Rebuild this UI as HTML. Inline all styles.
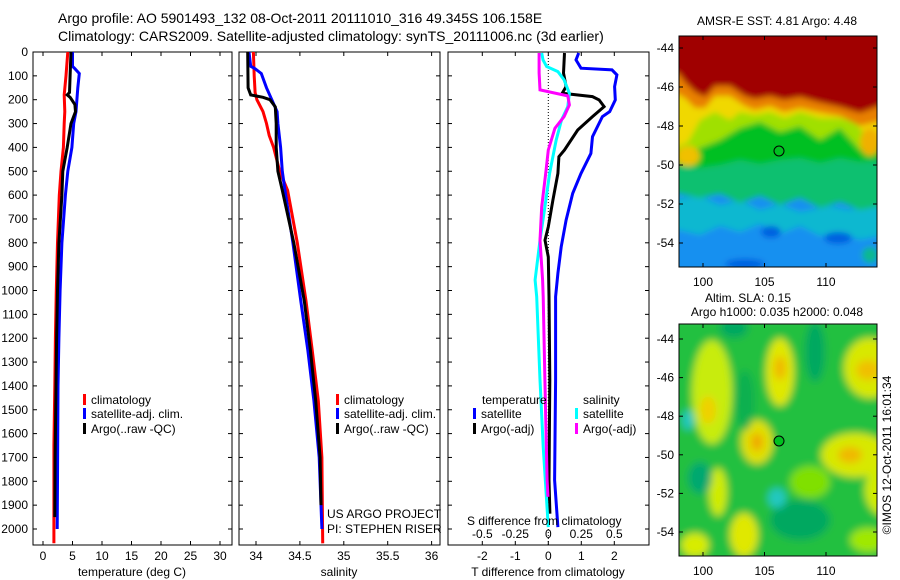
<!DOCTYPE html>
<html><head><meta charset="utf-8"><style>
html,body{margin:0;padding:0;background:#fff;}
svg{display:block;font-family:"Liberation Sans",sans-serif;}
text{font-size:12px;fill:#000;}
</style></head><body>
<svg id="fig" width="900" height="580" viewBox="0 0 900 580" xmlns="http://www.w3.org/2000/svg">
<defs>
<filter id="bl" x="-10%" y="-10%" width="120%" height="120%"><feGaussianBlur stdDeviation="3"/></filter>
<filter id="bl2" x="-30%" y="-30%" width="160%" height="160%"><feGaussianBlur stdDeviation="4"/></filter>
<clipPath id="c1"><rect x="679" y="36" width="198" height="231"/></clipPath>
<clipPath id="c2"><rect x="679" y="324" width="198" height="232"/></clipPath>
</defs>
<text x="58" y="23" style="font-size:14px">Argo profile: AO 5901493_132 08-Oct-2011 20111010_316 49.345S 106.158E</text>
<text x="58" y="41" style="font-size:14px">Climatology: CARS2009. Satellite-adjusted climatology: synTS_20111006.nc (3d earlier)</text>

<g id="panels"></g>

<!-- SST map -->
<g>
<text x="777" y="25" text-anchor="middle">AMSR-E SST: 4.81  Argo: 4.48</text>
<g clip-path="url(#c1)">
<g filter="url(#bl)">
<rect x="670" y="30" width="215" height="245" fill="#1890f0"/>
<polygon fill="#10b8d0" points="670,200 700,196 720,205 740,200 760,210 780,204 800,212 830,206 850,210 885,200 885,235 860,240 840,232 820,236 800,226 780,234 760,224 740,232 720,226 700,235 670,228"/>
<polygon fill="#10c070" points="670,30 885,30 885,205 860,210 840,202 820,208 800,198 780,205 760,196 740,203 720,194 700,198 670,192"/>
<polygon fill="#00c020" points="670,30 885,30 885,160 860,162 840,158 820,163 800,158 780,160 760,164 740,160 720,165 700,168 670,166"/>
<polygon fill="#a0e000" points="670,30 885,30 885,145 860,150 840,128 820,140 800,126 780,132 760,122 740,128 720,140 700,148 670,150"/>
<polygon fill="#f0d800" points="670,30 885,30 885,140 870,140 855,122 840,118 820,118 800,112 785,118 770,112 755,115 740,112 730,120 715,112 700,120 688,142 670,150"/>
<polygon fill="#e88000" points="670,30 885,30 885,120 860,126 840,116 818,112 800,108 784,112 770,106 755,110 745,106 730,96 715,96 705,108 695,108 685,98 670,90"/>
<polygon fill="#a00000" points="670,30 885,30 885,104 860,113 840,107 818,102 800,97 784,100 770,96 755,99 745,96 730,86 715,86 705,97 695,92 685,82 679,74 670,70"/>
<ellipse cx="870" cy="142" rx="10" ry="14" fill="#f0b000"/>
<ellipse cx="688" cy="156" rx="12" ry="10" fill="#f0c000"/>
<ellipse cx="771" cy="232" rx="10" ry="6" fill="#0060e0"/>
<ellipse cx="838" cy="238" rx="14" ry="6" fill="#0060e0"/>
<ellipse cx="745" cy="264" rx="20" ry="5" fill="#0060e0"/>
<ellipse cx="870" cy="255" rx="8" ry="8" fill="#10b890"/>
</g>
</g>
<rect x="679" y="36" width="198" height="231" fill="none" stroke="#000" stroke-width="1"/>
<circle cx="779" cy="151" r="5" fill="#00c020" stroke="#000" stroke-width="1"/>
<g id="m1ticks"></g>
</g>

<!-- SLA map -->
<g>
<text x="748" y="302" text-anchor="middle">Altim. SLA: 0.15</text>
<text x="777" y="316" text-anchor="middle">Argo h1000: 0.035 h2000: 0.048</text>
<g clip-path="url(#c2)">
<g filter="url(#bl2)">
<rect x="670" y="318" width="215" height="245" fill="#20c040"/>
<ellipse cx="712" cy="392" rx="20" ry="52" fill="#c8ec10"/>
<ellipse cx="708" cy="410" rx="8" ry="14" fill="#f0d000"/>
<ellipse cx="780" cy="372" rx="14" ry="34" fill="#e0e800"/>
<ellipse cx="780" cy="368" rx="6" ry="12" fill="#f0b800"/>
<ellipse cx="870" cy="368" rx="26" ry="30" fill="#d8e800"/>
<ellipse cx="868" cy="370" rx="12" ry="10" fill="#f0c000"/>
<ellipse cx="757" cy="442" rx="16" ry="22" fill="#e0e000"/>
<ellipse cx="757" cy="442" rx="6" ry="9" fill="#f0a800"/>
<ellipse cx="855" cy="455" rx="34" ry="22" fill="#d8e800"/>
<ellipse cx="850" cy="455" rx="12" ry="8" fill="#f0b800"/>
<ellipse cx="718" cy="492" rx="9" ry="24" fill="#d0ec00"/>
<ellipse cx="744" cy="535" rx="14" ry="22" fill="#e0e800"/>
<ellipse cx="695" cy="545" rx="14" ry="12" fill="#d8ec00"/>
<ellipse cx="810" cy="482" rx="20" ry="16" fill="#80e000"/>
<ellipse cx="885" cy="490" rx="20" ry="26" fill="#d0ec00"/>
<ellipse cx="868" cy="540" rx="18" ry="12" fill="#a0e800"/>
<ellipse cx="815" cy="352" rx="10" ry="30" fill="#00a860"/>
<ellipse cx="800" cy="520" rx="30" ry="20" fill="#00a860"/>
<ellipse cx="777" cy="498" rx="9" ry="10" fill="#20c8c0"/>
<ellipse cx="688" cy="420" rx="6" ry="10" fill="#20c8c0"/>
<ellipse cx="700" cy="478" rx="12" ry="16" fill="#00a870"/>
<ellipse cx="734" cy="328" rx="14" ry="10" fill="#00a860"/>
<ellipse cx="745" cy="400" rx="10" ry="30" fill="#10b050"/>
</g>
</g>
<rect x="679" y="324" width="198" height="232" fill="none" stroke="#000" stroke-width="1"/>
<circle cx="779" cy="441" r="5" fill="#00c020" stroke="#000" stroke-width="1"/>
<g id="m2ticks"></g>
</g>
<text transform="translate(891,455) rotate(-90)" text-anchor="middle">©IMOS 12-Oct-2011 16:01:34</text>
</svg>
<script>
// ---- data ----
const depthTicks = [0,100,200,300,400,500,600,700,800,900,1000,1100,1200,1300,1400,1500,1600,1700,1800,1900,2000];
const tempTicks = [0,5,10,15,20,25,30];
const salTicks = [34,34.5,35,35.5,36];
const salTickLabels = ["34","34.5","35","35.5","36"];
const tdiffTicks = [-2,-1,0,1,2];
const sdiffTicks = [-0.5,-0.25,0,0.25,0.5];
const sdiffTickLabels = ["-0.5","-0.25","0","0.25","0.5"];

const tClimDepth = [0,100,180,250,300,400,500,600,800,1000,1200,1400,1650,2060];
const tClim = [4.2,3.9,3.6,3.7,3.6,3.45,3.05,2.76,2.45,2.25,2.1,2.0,1.85,1.85];
const tSatDepth = [0,60,70,90,150,250,300,400,500,600,800,1000,1200,1400,1800,2000];
const tSat = [5.0,5.0,5.4,6.15,5.9,5.6,5.2,4.9,4.2,3.8,3.2,2.9,2.7,2.55,2.45,2.4];
const tArgoDepth = [0,100,170,180,190,220,250,300,400,500,600,800,1000,1200,1400,1700,1950];
const tArgo = [4.75,4.6,4.5,4.1,4.6,5.4,5.5,4.75,4.1,3.35,3.2,2.7,2.45,2.3,2.2,2.05,2.0];

const sClimDepth = [0,100,170,200,250,300,350,400,500,580,800,1044,1250,1462,1700,2060];
const sClim = [33.97,33.98,33.99,34.01,34.08,34.12,34.15,34.2,34.27,34.36,34.47,34.57,34.64,34.71,34.75,34.76];
const sSatDepth = [0,60,70,90,150,200,250,300,400,500,580,800,1044,1250,1462,1700,2000];
const sSat = [33.92,33.94,33.99,34.06,34.12,34.18,34.24,34.25,34.28,34.3,34.33,34.42,34.51,34.59,34.66,34.72,34.75];
const sArgoDepth = [0,150,180,190,200,230,300,400,500,580,800,1044,1250,1462,1700,1900];
const sArgo = [33.905,33.91,33.94,34.08,34.16,34.22,34.23,34.23,34.25,34.30,34.43,34.55,34.62,34.68,34.73,34.74];

const dTSatDepth = [4,33,68,75,96,145,201,250,271,355,425,509,593,705,817,928,1026,1375,1795,1992];
const dTSat = [0.92,0.84,0.99,1.93,2.08,2.01,2.03,1.86,1.64,1.34,1.29,0.99,0.74,0.54,0.39,0.29,0.22,0.22,0.19,0.29];
const dTArgoDepth = [4,88,145,173,187,201,229,271,327,411,439,509,621,733,789,859,1026,1375,1795,1936];
const dTArgo = [0.49,0.46,0.54,0.42,1.34,1.54,1.69,1.34,0.89,0.49,0.32,0.29,0.14,0,-0.1,0,0.02,0.045,0.02,0.05];
const dSSatDepth = [4,33,61,82,117,173,229,285,369,509,649,789,956,1026,1375,1655,1992];
const dSSat = [-0.05,-0.04,-0.013,0.073,0.12,0.16,0.148,0.1,0.06,0.01,-0.026,-0.063,-0.1,-0.088,-0.063,-0.039,0];
const dSArgoDepth = [4,88,159,184,222,271,320,411,509,649,789,956,1026,1375,1795,1865];
const dSArgo = [-0.07,-0.07,-0.063,0.148,0.16,0.12,0.05,0,-0.02,-0.05,-0.063,-0.043,-0.039,-0.026,-0.009,-0.002];

const mapLonTicks = [100,105,110];
const mapLatTicks = [-44,-46,-48,-50,-52,-54];

// ---- axes ----
const NS = "http://www.w3.org/2000/svg";
const TOP = 52, BOT = 545;
const yD = d => 52 + d * 0.2385;
const xT = v => 43 + v * 5.9;
const xS = v => 256 + (v - 34) * 87.8;
const xDT = v => 548.3 + v * 33;
const xDS = v => 548.3 + v * 132;
const panelsG = document.getElementById('panels');

function mk(tag, attrs, parent) {
  const e = document.createElementNS(NS, tag);
  for (const k in attrs) e.setAttribute(k, attrs[k]);
  (parent || panelsG).appendChild(e);
  return e;
}
function txt(x, y, s, anchor, parent) {
  const t = mk('text', {x: x, y: y, 'text-anchor': anchor || 'start'}, parent);
  t.textContent = s;
  return t;
}
function frame(x0, x1, name) {
  const r = mk('rect', {x: x0, y: TOP, width: x1 - x0, height: BOT - TOP, fill: 'none', stroke: '#000', 'stroke-width': 1});
  
  
  depthTicks.forEach(d => {
    mk('line', {x1: x0, x2: x0 + 4, y1: yD(d), y2: yD(d), stroke: '#000'});
    mk('line', {x1: x1, x2: x1 - 4, y1: yD(d), y2: yD(d), stroke: '#000'});
  });
}
function xticks(vals, fx, labels, y, name) {
  vals.forEach((v, i) => {
    const x = fx(v);
    mk('line', {x1: x, x2: x, y1: TOP, y2: TOP + 4, stroke: '#000'});
    mk('line', {x1: x, x2: x, y1: BOT, y2: BOT - 4, stroke: '#000'});
    const t = txt(x, y, labels ? labels[i] : String(v), 'middle');
    
    
  });
}
function line(depths, vals, fx, color, name) {
  const pts = depths.map((d, i) => fx(vals[i]).toFixed(1) + ',' + yD(d).toFixed(1)).join(' ');
  const p = mk('polyline', {points: pts, fill: 'none', stroke: color, 'stroke-width': 3, 'stroke-linejoin': 'miter'});
  
  
}
function legend(x, y, color, label) {
  mk('rect', {x: x, y: y - 10, width: 3, height: 11, fill: color});
  const t = txt(x + 8, y, label);
  
  
}

// depth labels
depthTicks.forEach(d => {
  const t = txt(28, yD(d) + 4, String(d), 'end');
  
  
});

// panel 1 temperature
frame(33, 232, 'temperature-panel');
xticks(tempTicks, xT, null, 560, 'temperature-tick-label');
let t1 = txt(132, 576, 'temperature (deg C)', 'middle');


line(tClimDepth, tClim, xT, '#ff0000', 'temperature-climatology-line');
line(tSatDepth, tSat, xT, '#0000ff', 'temperature-satellite-line');
line(tArgoDepth, tArgo, xT, '#000000', 'temperature-argo-line');
legend(83, 404, '#ff0000', 'climatology');
legend(83, 418, '#0000ff', 'satellite-adj. clim.');
legend(83, 433, '#000000', 'Argo(..raw -QC)');

// panel 2 salinity
frame(239, 440, 'salinity-panel');
xticks(salTicks, xS, salTickLabels, 560, 'salinity-tick-label');
let t2 = txt(339, 576, 'salinity', 'middle');


line(sClimDepth, sClim, xS, '#ff0000', 'salinity-climatology-line');
line(sSatDepth, sSat, xS, '#0000ff', 'salinity-satellite-line');
line(sArgoDepth, sArgo, xS, '#000000', 'salinity-argo-line');
legend(336, 404, '#ff0000', 'climatology');
legend(336, 418, '#0000ff', 'satellite-adj. clim.');
legend(336, 433, '#000000', 'Argo(..raw -QC)');
let pr1 = txt(327, 518, 'US ARGO PROJECT');


let pr2 = txt(327, 533, 'PI: STEPHEN RISER');



// panel 3 differences
frame(448, 649, 'difference-panel');
xticks(tdiffTicks, xDT, null, 560, 'tdiff-tick-label');
sdiffTicks.forEach((v, i) => {
  const t = txt(xDS(v), 538, sdiffTickLabels[i], 'middle');
  
  
});
let zl = mk('line', {x1: xDT(0), x2: xDT(0), y1: TOP, y2: BOT, stroke: '#000', 'stroke-dasharray': '1,2', 'stroke-width': 1});


line(dTSatDepth, dTSat, xDT, '#0000ff', 'tdiff-satellite-line');
line(dTArgoDepth, dTArgo, xDT, '#000000', 'tdiff-argo-line');
line(dSSatDepth, dSSat, xDS, '#00ffff', 'sdiff-satellite-line');
line(dSArgoDepth, dSArgo, xDS, '#ff00ff', 'sdiff-argo-line');
let lh1 = txt(482, 404, 'temperature');


let lh2 = txt(583, 404, 'salinity');


legend(473, 418, '#0000ff', 'satellite');
legend(473, 433, '#000000', 'Argo(-adj)');
legend(575, 418, '#00ffff', 'satellite');
legend(575, 433, '#ff00ff', 'Argo(-adj)');
let sdt = txt(467, 525, 'S difference from climatology');


let tdt = txt(548, 576, 'T difference from climatology', 'middle');



// map ticks
function mapTicks(gid, top, bot, latY0, latStep, xlabY) {
  const g = document.getElementById(gid);
  const lx = v => 703 + (v - 100) * 12.3;
  mapLonTicks.forEach(v => {
    const x = lx(v);
    mk('line', {x1: x, x2: x, y1: top, y2: top + 4, stroke: '#000'}, g);
    mk('line', {x1: x, x2: x, y1: bot, y2: bot - 4, stroke: '#000'}, g);
    const t = txt(x, xlabY, String(v), 'middle', g);
    
    
  });
  mapLatTicks.forEach(v => {
    const y = latY0 + (-44 - v) * latStep;
    mk('line', {x1: 679, x2: 683, y1: y, y2: y, stroke: '#000'}, g);
    mk('line', {x1: 877, x2: 873, y1: y, y2: y, stroke: '#000'}, g);
    const t = txt(674, y + 4, String(v), 'end', g);
    
    
  });
}
mapTicks('m1ticks', 36, 267, 48, 19.5, 286);
mapTicks('m2ticks', 324, 556, 339, 19.3, 575);
</script>
</body></html>
